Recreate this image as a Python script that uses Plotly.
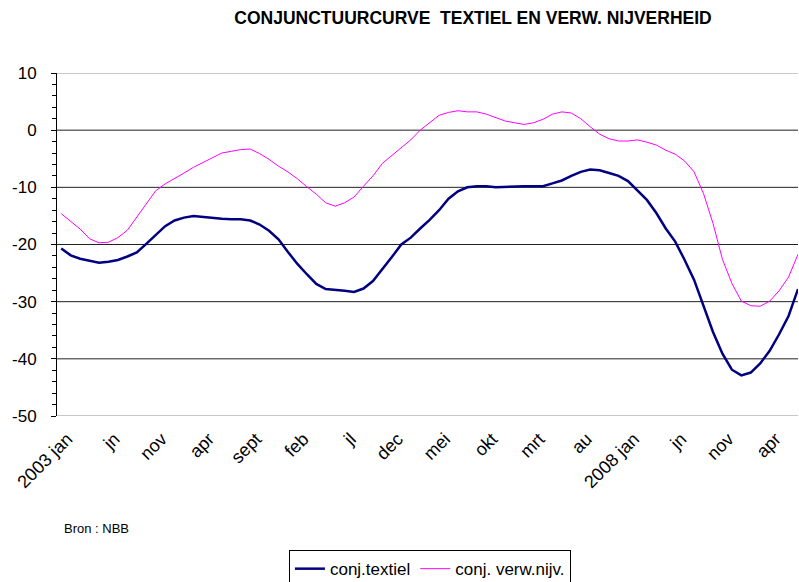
import plotly.graph_objects as go

# month index 0 = 2003 jan
months = list(range(79))

textiel = [
    -20.7, -21.9, -22.5, -22.9, -23.2, -23.0, -22.7, -22.1, -21.4, -19.9,
    -18.3, -16.8, -15.8, -15.3, -15.0, -15.2, -15.4, -15.5, -15.6, -15.6,
    -15.8, -16.5, -17.6, -19.1, -21.3, -23.4, -25.2, -26.9, -27.8, -27.9,
    -28.1, -28.3, -27.7, -26.4, -24.4, -22.2, -20.0, -18.8, -17.2, -15.7,
    -14.0, -12.0, -10.7, -10.0, -9.8, -9.8, -10.0, -9.9, -9.8, -9.8,
    -9.8, -9.8, -9.3, -8.8, -8.0, -7.3, -6.9, -7.0, -7.5, -8.0,
    -8.9, -10.5, -12.2, -14.5, -17.2, -19.5, -22.7, -26.2, -30.9, -35.3,
    -39.1, -41.9, -42.9, -42.4, -40.8, -38.6, -35.7, -32.5, -27.8,
]

verw = [
    -14.6, -16.0, -17.3, -19.0, -19.7, -19.6, -18.8, -17.5, -15.2, -12.8,
    -10.6, -9.4, -8.5, -7.5, -6.5, -5.7, -4.8, -4.0, -3.7, -3.4,
    -3.3, -4.1, -5.1, -6.3, -7.3, -8.5, -9.9, -11.2, -12.7, -13.3,
    -12.7, -11.7, -9.8, -8.0, -5.8, -4.4, -3.1, -1.7, 0.0, 1.3,
    2.6, 3.1, 3.4, 3.2, 3.2, 2.8, 2.2, 1.6, 1.3, 1.0,
    1.3, 1.9, 2.8, 3.2, 3.0, 2.0, 0.6, -0.7, -1.5, -1.9,
    -1.9, -1.7, -2.1, -2.6, -3.5, -4.2, -5.4, -7.3, -11.1, -16.3,
    -22.6, -26.8, -29.9, -30.7, -30.8, -29.9, -28.1, -25.7, -21.7,
]

tick_pos = list(range(0, 79, 5))
tick_text = ["2003 jan", "jn", "nov", "apr", "sept", "feb", "jl", "dec",
             "mei", "okt", "mrt", "au", "2008 jan", "jn", "nov", "apr"]

y_vals = [10, 0, -10, -20, -30, -40, -50]
y_text = ["10", "0", "-10", "-20", "-30", "-40", "-50"]

font = "Liberation Sans Narrow, Arial Narrow, Liberation Sans, Arial"

fig = go.Figure()
fig.add_trace(go.Scatter(x=months, y=textiel, mode="lines", name="conj.textiel",
                         line=dict(color="#000080", width=2.5)))
fig.add_trace(go.Scatter(x=months, y=verw, mode="lines", name="conj. verw.nijv.",
                         line=dict(color="#ff00ff", width=1)))

# horizontal gridlines (dark inside, light at the edges)
for v in y_vals[1:-1]:
    fig.add_hline(y=v, line=dict(color="#222222", width=1), layer="below")
for v in [y_vals[0], y_vals[-1]]:
    fig.add_hline(y=v, line=dict(color="#c8c8c8", width=2), layer="below")

fig.update_layout(
    width=799, height=582,
    margin=dict(l=57, r=1, t=73, b=166, autoexpand=False),
    paper_bgcolor="white", plot_bgcolor="white",
    font=dict(family=font, color="black", size=15),
    title=dict(text="<b>CONJUNCTUURCURVE  TEXTIEL EN VERW. NIJVERHEID</b>",
               x=0.592, xanchor="center", y=0.969, yanchor="middle",
               font=dict(family=font, size=17.5, color="black")),
    showlegend=True,
    legend=dict(orientation="h", x=0.313, y=-0.391, xanchor="left", yanchor="top",
                bordercolor="black", borderwidth=1, bgcolor="white",
                font=dict(family=font, size=17)),
    annotations=[dict(text="Bron : NBB", xref="paper", yref="paper",
                      x=0.007, y=-0.327, xanchor="left", yanchor="middle",
                      showarrow=False, font=dict(family=font, size=13))],
)

fig.update_xaxes(range=[-0.45, 78], tickvals=tick_pos, ticktext=tick_text,
                 tickangle=-45, ticks="", showgrid=False, zeroline=False,
                 showline=False, tickfont=dict(family=font, size=18),
                 ticklabelstandoff=8, ticklabelshift=6)
fig.update_yaxes(range=[-50, 10], tickvals=y_vals, ticktext=y_text,
                 showgrid=False, zeroline=False,
                 showline=True, linecolor="black", linewidth=1,
                 ticks="outside", ticklen=5, tickcolor="black",
                 minor=dict(dtick=2, ticks="outside", ticklen=4, tickcolor="black"),
                 tickfont=dict(family="Liberation Sans, Arial", size=17),
                 ticklabelstandoff=11)

# drop the default page margin so the 799x582 figure fills the window
fig.write_html("out.html", config={"displayModeBar": False},
               post_script="document.body.style.margin='0';"
                           "document.body.style.overflow='hidden';")
